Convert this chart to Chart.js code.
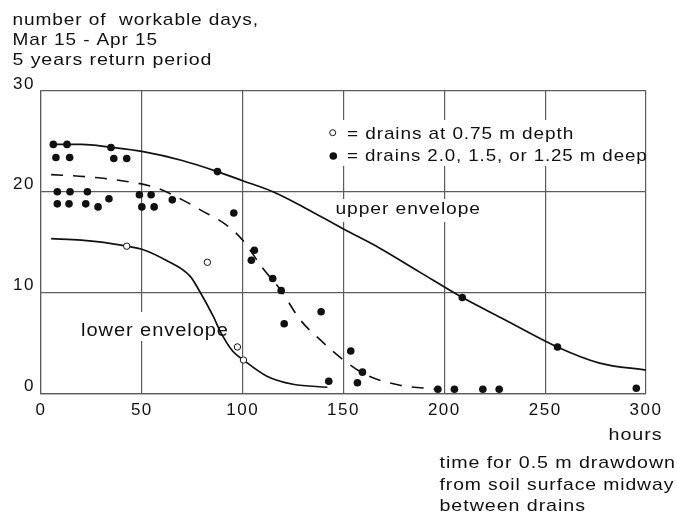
<!DOCTYPE html>
<html>
<head>
<meta charset="utf-8">
<script src="https://cdn.jsdelivr.net/npm/chart.js@4/dist/chart.umd.min.js"></script>
<style>
  html, body { margin: 0; padding: 0; background: #ffffff; }
  canvas { display: block; }
</style>
</head>
<body>
<canvas id="c" width="677" height="516"></canvas>
<script>
// Drawdown time (hours) vs. workable days, drains at 0.75 m depth
const shallowHours = [42.5, 82.5, 97.4, 100.4];
const shallowDays  = [14.6, 13.0, 4.6, 3.3];

// Drains 2.0, 1.5 or 1.25 m deep
const deepHours = [6.1, 12.9, 7.4, 14.2, 34.7, 36.1, 42.5, 87.5,
                   8.1, 14.4, 23.0, 8.1, 13.9, 22.2, 28.3, 33.7,
                   48.8, 54.6, 50.0, 56.1, 65.1, 95.6, 105.8, 104.3,
                   114.9, 119.1, 138.9, 120.6, 153.6, 159.4, 156.9, 142.7,
                   196.8, 205.0, 219.1, 227.2, 295.2, 208.9, 256.1];
const deepDays  = [24.7, 24.7, 23.4, 23.4, 24.4, 23.3, 23.3, 22.0,
                   20.0, 20.0, 20.0, 18.8, 18.8, 18.8, 18.5, 19.3,
                   19.7, 19.7, 18.5, 18.5, 19.2, 17.9, 14.2, 13.2,
                   11.4, 10.2, 8.1, 6.9, 4.2, 2.1, 1.05, 1.2,
                   0.4, 0.4, 0.4, 0.4, 0.5, 9.5, 4.6];

// Envelope curves
const upperHours = [5, 20, 35, 50, 70, 87.5, 100, 115, 130, 150, 168, 188, 209, 230, 256, 277, 300];
const upperDays  = [24.7, 24.7, 24.4, 24.0, 23.1, 22.0, 21.1, 20.0, 18.5, 16.3, 14.4, 12.0, 9.5, 7.3, 4.6, 3.0, 2.3];

const middleHours = [5, 22, 40, 57, 72, 79, 92, 100, 110, 119, 128.5, 138.5, 150, 161.5, 178, 197];
const middleDays  = [21.7, 21.5, 21.1, 20.4, 19.0, 18.2, 16.7, 15.2, 12.4, 10.2, 7.3, 5.3, 3.3, 1.8, 0.8, 0.4];

const lowerHours = [5, 20, 30, 42.5, 50, 62, 74, 79, 85.5, 89, 95, 100.4, 112, 125, 142];
const lowerDays  = [15.35, 15.2, 15.0, 14.6, 14.3, 13.2, 11.6, 10.0, 7.6, 6.1, 4.2, 3.3, 1.7, 0.9, 0.6];

// Axis ticks
const xTicks = [0, 50, 100, 150, 200, 250, 300];
const yTicks = [0, 10, 20, 30];

const toPoints = (xs, ys) => xs.map((x, i) => ({ x: x, y: ys[i] }));

const FONT = '"Liberation Sans", Arial, sans-serif';
const TICK_SPACING = '1.5px';
const GRID = '#5c5c5c';

// Text set in a wide face: draw, then stretch horizontally to span [left, right]
function drawWide(ctx, text, left, right, baseline, size) {
  ctx.save();
  ctx.font = size + 'px ' + FONT;
  ctx.letterSpacing = '0.8px';
  const w = ctx.measureText(text).width - 0.8;
  const sx = (right - left) / w;
  ctx.translate(left, baseline);
  ctx.scale(sx, 1);
  ctx.textAlign = 'left';
  ctx.textBaseline = 'alphabetic';
  ctx.fillText(text, 0, 0);
  ctx.restore();
}

const textPlugin = {
  id: 'figureText',
  beforeUpdate(chart) { chart.ctx.letterSpacing = TICK_SPACING; },
  beforeDraw(chart) { chart.ctx.letterSpacing = TICK_SPACING; },
  beforeDatasetsDraw(chart) {
    const ctx = chart.ctx;
    ctx.save();
    // white panels under the in-plot labels
    ctx.fillStyle = '#ffffff';
    ctx.fillRect(328, 120, 316, 46);
    ctx.fillRect(331, 199, 152, 23);
    ctx.fillRect(77, 312, 155, 29);

    ctx.fillStyle = '#111111';
    const lines = [
      ['number of  workable days,', 12.5, 258, 25, 17],
      ['Mar 15 - Apr 15', 12.5, 157, 44.5, 17],
      ['5 years return period', 12.5, 211.5, 65, 17],
      ['= drains at 0.75 m depth', 347, 573.3, 138.5, 17],
      ['= drains 2.0, 1.5, or 1.25 m deep', 347, 646.7, 160.7, 17],
      ['upper envelope', 335.5, 480, 214, 17],
      ['lower envelope', 81, 228, 336, 17.5],
      ['hours', 608.5, 661.5, 440, 17],
      ['time for 0.5 m drawdown', 439.5, 675, 468, 17],
      ['from soil surface midway', 439.5, 673.3, 489.5, 17],
      ['between drains', 439.5, 585, 511, 17]
    ];
    lines.forEach(([t, l, r, y, s]) => drawWide(ctx, t, l, r, y, s));

    // key symbols
    ctx.lineWidth = 1;
    ctx.strokeStyle = '#111111';
    ctx.beginPath();
    ctx.arc(332.7, 132.7, 3, 0, Math.PI * 2);
    ctx.fillStyle = '#ffffff';
    ctx.fill();
    ctx.stroke();
    ctx.beginPath();
    ctx.arc(333.3, 156, 3.8, 0, Math.PI * 2);
    ctx.fillStyle = '#111111';
    ctx.fill();
    ctx.restore();
  }
};

new Chart(document.getElementById('c'), {
  type: 'scatter',
  data: {
    datasets: [
      {
        label: 'drains at 0.75 m depth',
        data: toPoints(shallowHours, shallowDays),
        pointRadius: 3.2,
        pointBorderWidth: 1,
        pointBackgroundColor: '#ffffff',
        pointBorderColor: '#111111',
        showLine: false,
        order: 0
      },
      {
        label: 'drains 2.0, 1.5, or 1.25 m deep',
        data: toPoints(deepHours, deepDays),
        pointRadius: 3.8,
        pointBorderWidth: 0,
        pointBackgroundColor: '#111111',
        pointBorderColor: '#111111',
        showLine: false,
        order: 0
      },
      {
        label: 'upper envelope',
        data: toPoints(upperHours, upperDays),
        showLine: true,
        pointRadius: 0,
        borderColor: '#111111',
        borderWidth: 1.7,
        cubicInterpolationMode: 'monotone',
        order: 1
      },
      {
        label: 'mean',
        data: toPoints(middleHours, middleDays),
        showLine: true,
        pointRadius: 0,
        borderColor: '#111111',
        borderWidth: 1.6,
        borderDash: [12, 10],
        cubicInterpolationMode: 'monotone',
        order: 1
      },
      {
        label: 'lower envelope',
        data: toPoints(lowerHours, lowerDays),
        showLine: true,
        pointRadius: 0,
        borderColor: '#111111',
        borderWidth: 1.7,
        cubicInterpolationMode: 'monotone',
        order: 1
      }
    ]
  },
  options: {
    responsive: false,
    animation: false,
    devicePixelRatio: 1,
    layout: { padding: { top: 91, right: 31, bottom: 0, left: 0 } },
    plugins: {
      legend: { display: false },
      tooltip: { enabled: false },
      title: { display: false }
    },
    scales: {
      x: {
        type: 'linear',
        min: 0,
        max: 300,
        afterBuildTicks: (scale) => { scale.ticks = xTicks.map(v => ({ value: v })); },
        afterFit: (scale) => { scale.height = 122.7; },
        grid: { color: GRID, lineWidth: 1.2, drawTicks: false },
        border: { color: GRID, width: 1.2 },
        ticks: {
          color: '#111111',
          padding: 7,
          maxRotation: 0,
          font: { family: FONT, size: 17 }
        }
      },
      y: {
        type: 'linear',
        min: 0,
        max: 30,
        afterBuildTicks: (scale) => { scale.ticks = yTicks.map(v => ({ value: v })); },
        afterFit: (scale) => { scale.width = 41; },
        grid: { color: GRID, lineWidth: 1.2, drawTicks: false },
        border: { color: GRID, width: 1.2 },
        ticks: {
          color: '#111111',
          padding: 6,
          labelOffset: -7,
          font: { family: FONT, size: 17 }
        }
      }
    }
  },
  plugins: [textPlugin]
});
</script>
</body>
</html>
